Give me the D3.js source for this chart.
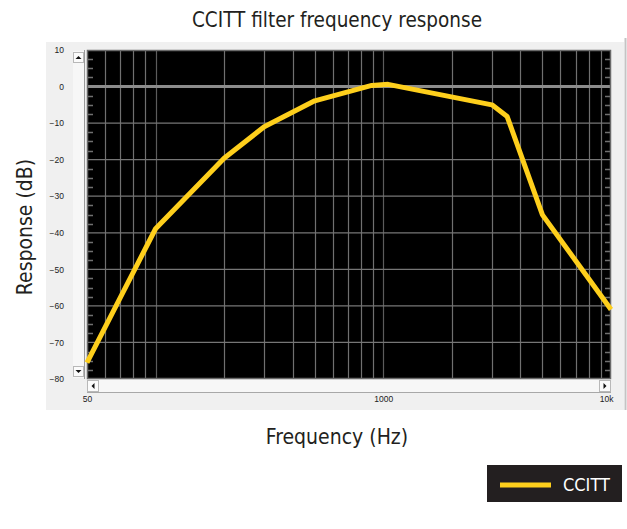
<!DOCTYPE html>
<html>
<head>
<meta charset="utf-8">
<script src="https://cdn.jsdelivr.net/npm/d3@7"></script>
<style>
  body { margin: 0; background: #fff; }
  .big { font-family: "Liberation Sans Narrow", "DejaVu Sans Condensed", sans-serif; fill: #231f20; }
  .tick-text { font-family: "Liberation Sans", Arial, sans-serif; font-size: 8.5px; fill: #222; }
</style>
</head>
<body>
<svg id="chart" width="627" height="529"></svg>
<script>
// values
const FREQ_HZ = [50, 100, 200, 300, 500, 890, 1050, 3000, 3500, 5000, 10000];
const RESPONSE_DB = [-75.5, -38.9, -19.6, -11, -3.9, 0.3, 0.6, -5, -8.2, -35.1, -61];
const Y_TICKS = [10, 0, -10, -20, -30, -40, -50, -60, -70, -80];
const X_TICK_VALUES = [50, 1000, 10000];
const X_TICK_LABELS = ["50", "1000", "10k"];
const SERIES_NAME = "CCITT";

const LINE_COLOR = "#fecf1c";

const svg = d3.select("#chart");

const plot = { left: 87, right: 611, top: 50, bottom: 379 };

const x = d3.scaleLog()
  .domain([50, 10000])
  .range([plot.left, plot.right]);

const y = d3.scaleLinear()
  .domain([-80, 10])
  .range([plot.bottom, plot.top]);

// title
svg.append("text")
  .attr("class", "big")
  .attr("x", 337)
  .attr("y", 27)
  .attr("text-anchor", "middle")
  .style("font-size", "20.5px")
  .text("CCITT filter frequency response");

// grey panel behind the plot (looks like a window screenshot)
svg.append("rect")
  .attr("x", 46).attr("y", 42)
  .attr("width", 578).attr("height", 368)
  .attr("fill", "#f0f0f0");

svg.append("line")
  .attr("x1", 625.5).attr("x2", 625.5)
  .attr("y1", 38).attr("y2", 410)
  .attr("stroke", "#c4c4c4")
  .attr("stroke-width", 2);

// vertical scroll bar
const vbar = svg.append("g");
vbar.append("rect")
  .attr("x", 73).attr("y", 51)
  .attr("width", 11).attr("height", 327)
  .attr("fill", "#f7f7f7");
vbar.append("line")
  .attr("x1", 84.5).attr("x2", 84.5)
  .attr("y1", 50).attr("y2", 379)
  .attr("stroke", "#9a9a9a");
[[52, "up"], [366, "down"]].forEach(([top, dir]) => {
  vbar.append("rect")
    .attr("x", 73.5).attr("y", top + 0.5)
    .attr("width", 10).attr("height", 10)
    .attr("fill", "#fbfbfb")
    .attr("stroke", "#b8b8b8");
  const cx = 78.5, cy = top + 5.5;
  const pts = dir === "up"
    ? [[cx - 3, cy + 1.5], [cx + 3, cy + 1.5], [cx, cy - 1.5]]
    : [[cx - 3, cy - 1.5], [cx + 3, cy - 1.5], [cx, cy + 1.5]];
  vbar.append("polygon")
    .attr("points", pts.map((p) => p.join(",")).join(" "))
    .attr("fill", "#111");
});

// horizontal scroll bar
const hbar = svg.append("g");
hbar.append("rect")
  .attr("x", plot.left).attr("y", 380)
  .attr("width", plot.right - plot.left).attr("height", 12)
  .attr("fill", "#f7f7f7");
hbar.append("line")
  .attr("x1", plot.left).attr("x2", plot.right)
  .attr("y1", 392.5).attr("y2", 392.5)
  .attr("stroke", "#a8a8a8");
[[87, "left"], [599, "right"]].forEach(([left, dir]) => {
  hbar.append("rect")
    .attr("x", left + 0.5).attr("y", 380.5)
    .attr("width", 11).attr("height", 11)
    .attr("fill", "#fbfbfb")
    .attr("stroke", "#b8b8b8");
  const cx = left + 6, cy = 386;
  const pts = dir === "left"
    ? [[cx + 1.5, cy - 3], [cx + 1.5, cy + 3], [cx - 1.5, cy]]
    : [[cx - 1.5, cy - 3], [cx - 1.5, cy + 3], [cx + 1.5, cy]];
  hbar.append("polygon")
    .attr("points", pts.map((p) => p.join(",")).join(" "))
    .attr("fill", "#111");
});

// black plot area
svg.append("rect")
  .attr("x", plot.left).attr("y", plot.top)
  .attr("width", plot.right - plot.left).attr("height", plot.bottom - plot.top)
  .attr("fill", "#000");

const grid = svg.append("g");

// vertical grid lines at 60..90, 100..900, 1000..9000
grid.selectAll(".vgrid")
  .data(x.ticks().filter((d) => d > 50 && d < 10000))
  .join("line")
  .attr("class", "vgrid")
  .attr("x1", (d) => Math.round(x(d)) + 0.5)
  .attr("x2", (d) => Math.round(x(d)) + 0.5)
  .attr("y1", plot.top)
  .attr("y2", plot.bottom)
  .attr("stroke", (d) => (d === 1000 || d === 100) ? "#5c5c5c" : "#707070")
  .attr("stroke-width", 1.2);

// horizontal grid lines every 10 dB
grid.selectAll(".hgrid")
  .data(Y_TICKS.filter((d) => d > -80 && d < 10))
  .join("line")
  .attr("class", "hgrid")
  .attr("x1", plot.left)
  .attr("x2", plot.right)
  .attr("y1", (d) => y(d))
  .attr("y2", (d) => y(d))
  .attr("stroke", (d) => d === 0 ? "#8c8c8c" : "#767676")
  .attr("stroke-width", (d) => d === 0 ? 3 : 1.2);

// small ticks every 2.5 dB on both sides
const minor = d3.range(-80, 10, 2.5).filter((d) => d % 10 !== 0);
[[plot.left, plot.left + 6], [plot.right - 6, plot.right]].forEach(([a, b]) => {
  grid.selectAll(null)
    .data(minor)
    .join("line")
    .attr("x1", a).attr("x2", b)
    .attr("y1", (d) => Math.round(y(d)) + 0.5)
    .attr("y2", (d) => Math.round(y(d)) + 0.5)
    .attr("stroke", "#707070")
    .attr("stroke-width", 1.5);
});

// plot border
svg.append("rect")
  .attr("x", plot.left + 0.5).attr("y", plot.top + 0.5)
  .attr("width", plot.right - plot.left - 1).attr("height", plot.bottom - plot.top - 1)
  .attr("fill", "none")
  .attr("stroke", "#6a6a6a")
  .attr("stroke-width", 1.5);

// data line
const lineGen = d3.line()
  .x((d) => x(d[0]))
  .y((d) => y(d[1]));

svg.append("path")
  .datum(FREQ_HZ.map((f, i) => [f, RESPONSE_DB[i]]))
  .attr("d", lineGen)
  .attr("fill", "none")
  .attr("stroke", LINE_COLOR)
  .attr("stroke-width", 5)
  .attr("stroke-linejoin", "round");

// y axis labels
const yAxis = d3.axisLeft(y)
  .tickValues(Y_TICKS)
  .tickSize(0)
  .tickPadding(0);

svg.append("g")
  .attr("transform", "translate(64,0)")
  .call(yAxis)
  .call((g) => g.select(".domain").remove())
  .call((g) => g.selectAll("text").attr("class", "tick-text").attr("fill", null))
  .attr("font-family", null).attr("font-size", null);

// x axis labels
const xAxis = d3.axisBottom(x)
  .tickValues(X_TICK_VALUES)
  .tickFormat((d, i) => X_TICK_LABELS[i])
  .tickSize(0)
  .tickPadding(0);

svg.append("g")
  .attr("transform", "translate(0,396)")
  .call(xAxis)
  .call((g) => g.select(".domain").remove())
  .call((g) => g.selectAll("text").attr("class", "tick-text").attr("fill", null))
  .call((g) => g.selectAll("text").filter((d) => d === 10000).attr("text-anchor", "end").attr("dx", 2))
  .attr("font-family", null).attr("font-size", null);

// axis titles
svg.append("text")
  .attr("class", "big")
  .attr("transform", "translate(32,227) rotate(-90)")
  .attr("text-anchor", "middle")
  .style("font-size", "21px")
  .text("Response (dB)");

svg.append("text")
  .attr("class", "big")
  .attr("x", 337)
  .attr("y", 444)
  .attr("text-anchor", "middle")
  .style("font-size", "21px")
  .text("Frequency (Hz)");

// legend
const legend = svg.append("g");
legend.append("rect")
  .attr("x", 487).attr("y", 465)
  .attr("width", 135).attr("height", 37)
  .attr("fill", "#231f20");
legend.append("line")
  .attr("x1", 500).attr("x2", 551)
  .attr("y1", 485).attr("y2", 485)
  .attr("stroke", LINE_COLOR)
  .attr("stroke-width", 5);
legend.append("text")
  .attr("class", "big")
  .attr("x", 563)
  .attr("y", 491)
  .style("font-size", "18px")
  .style("fill", "#fff")
  .text(SERIES_NAME);
</script>
</body>
</html>
